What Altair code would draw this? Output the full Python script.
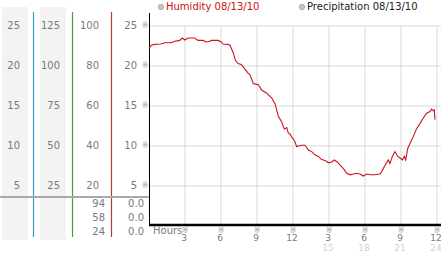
import altair as alt
import pandas as pd

# ---------------- data ----------------
hours = [0.0, 0.19, 0.48, 1.0, 1.31, 1.86, 2.14, 2.56, 2.78, 2.98, 3.25, 3.81, 4.08, 4.5,
         4.78, 5.06, 5.19, 5.75, 6.03, 6.17, 6.58, 6.75, 7.03, 7.19, 7.42, 7.69, 8.0, 8.25,
         8.42, 8.69, 8.98, 9.11, 9.39, 9.81, 10.23, 10.5, 10.78, 11.06, 11.28, 11.48, 11.61,
         11.75, 11.89, 12.03, 12.17, 12.31, 12.44, 12.73, 13.0, 13.28, 13.56, 13.83, 14.11,
         14.39, 14.67, 14.94, 15.23, 15.44, 15.69, 15.92, 16.19, 16.48, 16.75, 17.03, 17.31,
         17.58, 17.86, 18.14, 18.42, 18.83, 19.25, 19.39, 19.67, 19.94, 20.08, 20.28, 20.5,
         20.73, 20.92, 21.11, 21.28, 21.39, 21.56, 21.75, 22.03, 22.31, 22.58, 22.86, 23.14,
         23.42, 23.56, 23.69, 23.78, 23.83]
humidity = [22.2, 22.6, 22.7, 22.75, 22.9, 22.9, 23.1, 23.2, 23.5, 23.25, 23.5, 23.5, 23.2, 23.2,
            23.0, 23.1, 23.2, 23.2, 23.0, 22.75, 22.7, 22.6, 21.6, 20.75, 20.3, 20.2, 19.6, 19.1,
            18.9, 17.8, 17.7, 17.65, 17.0, 16.6, 16.0, 15.3, 13.7, 13.0, 12.1, 12.3, 11.6,
            11.5, 11.1, 10.9, 10.5, 9.9, 10.0, 10.1, 10.1, 9.5, 9.3, 8.9, 8.7,
            8.3, 8.2, 7.9, 8.0, 8.25, 8.0, 7.6, 7.2, 6.6, 6.4, 6.5, 6.6,
            6.5, 6.25, 6.5, 6.4, 6.4, 6.5, 6.8, 7.6, 8.25, 7.8, 8.7, 9.3,
            8.7, 8.5, 8.25, 8.7, 8.25, 9.7, 10.3, 11.2, 12.2, 12.8, 13.5, 14.1,
            14.3, 14.6, 14.4, 14.5, 13.3]

grid_vals = [25, 20, 15, 10, 5]
col1_labels = ["25", "20", "15", "10", "5"]
col2_labels = ["125", "100", "75", "50", "25"]
col3_labels = ["100", "80", "60", "40", "20"]
col4_labels = ["25", "20", "15", "10", "5"]
table_left = ["94", "58", "24"]
table_right = ["0.0", "0.0", "0.0"]
tick_hours = [3, 6, 9, 12, 15, 18, 21, 24]
tick_labels = ["3", "6", "9", "12", "3", "6", "9", "12"]
second_hours = [15, 18, 21, 24]
second_labels = ["15", "18", "21", "24"]
legend_texts = ["Humidity 08/13/10", "Precipitation 08/13/10"]

FONT = "DejaVu Sans"
W, H = 442, 253

xs = alt.Scale(domain=[-149 / 12, 293 / 12], nice=False, zero=False)
ys = alt.Scale(domain=[-27 / 8, 226 / 8], nice=False, zero=False)

one = pd.DataFrame({"d": [0]})
line_df = pd.DataFrame({"h": hours, "v": humidity})
grid_df = pd.DataFrame({"v": grid_vals, "c1": col1_labels, "c2": col2_labels,
                        "c3": col3_labels, "c4": col4_labels})
tick_df = pd.DataFrame({"h": tick_hours, "t": tick_labels})
sec_df = pd.DataFrame({"h": second_hours, "t": second_labels})


def Y(field="v"):
    return alt.Y(f"{field}:Q", scale=ys, axis=None)


def X(field="h"):
    return alt.X(f"{field}:Q", scale=xs, axis=None)


layers = []

# gray column backgrounds
for x1, x2 in [(2, 28), (40, 66)]:
    layers.append(alt.Chart(one).mark_rect(color="#f3f3f3").encode(
        x=alt.value(x1), x2=alt.value(x2), y=alt.value(7), y2=alt.value(240)))

# colored vertical lines
for xp, col in [(33.5, "#3a9ccc"), (72.5, "#3aa63a"), (111.5, "#b03a3a")]:
    layers.append(alt.Chart(one).mark_rule(color=col, strokeWidth=1.2).encode(
        x=alt.value(xp), y=alt.value(12), y2=alt.value(237)))

# gray separator
layers.append(alt.Chart(one).mark_rule(color="#a9a9a9", strokeWidth=2).encode(
    x=alt.value(0), x2=alt.value(149), y=alt.value(197)))

# horizontal grid
layers.append(alt.Chart(grid_df).mark_rule(color="#d9d9d9", strokeWidth=1).encode(
    y=Y(), x=alt.value(149), x2=alt.value(441)))

# vertical grid
layers.append(alt.Chart(tick_df).mark_rule(color="#d9d9d9", strokeWidth=1).encode(
    x=X(), y=alt.value(26), y2=alt.value(225)))

# black axes
layers.append(alt.Chart(one).mark_rule(color="#000000", strokeWidth=1).encode(
    x=alt.value(149.5), y=alt.value(13), y2=alt.value(226)))
layers.append(alt.Chart(one).mark_rule(color="#000000", strokeWidth=2.5).encode(
    x=alt.value(149), x2=alt.value(441), y=alt.value(225)))

# humidity line
layers.append(alt.Chart(line_df).mark_line(color="#cc1122", strokeWidth=1.1).encode(
    x=X(), y=Y()))

# left column labels
txt = dict(font=FONT, fontSize=10, baseline="middle", color="#7a7a7a")
for field, xp in [("c1", 20), ("c2", 60), ("c3", 99), ("c4", 137)]:
    layers.append(alt.Chart(grid_df).mark_text(align="right", **txt).encode(
        x=alt.value(xp), y=Y(), text=f"{field}:N"))

# tick glyphs on y
glyph = dict(align="center", font=FONT, fontSize=8, baseline="middle", color="#a0a0a0", text="※")
layers.append(alt.Chart(grid_df).mark_text(**glyph).encode(x=alt.value(145), y=Y()))

# table rows below separator
for i, yp in enumerate([204, 218, 232]):
    row = pd.DataFrame({"a": [table_left[i]], "b": [table_right[i]]})
    layers.append(alt.Chart(row).mark_text(align="right", **txt).encode(
        x=alt.value(105), y=alt.value(yp), text="a:N"))
    layers.append(alt.Chart(row).mark_text(align="right", **txt).encode(
        x=alt.value(144), y=alt.value(yp), text="b:N"))

# x axis labels
layers.append(alt.Chart(one).mark_text(align="left", text="Hours", **txt).encode(
    x=alt.value(153), y=alt.value(231)))
layers.append(alt.Chart(tick_df).mark_text(**glyph).encode(x=X(), y=alt.value(230.5)))
layers.append(alt.Chart(tick_df).mark_text(align="center", font=FONT, fontSize=9,
                                           baseline="middle", color="#7a7a7a", dx=-1).encode(
    x=X(), y=alt.value(238), text="t:N"))
layers.append(alt.Chart(sec_df).mark_text(align="center", font=FONT, fontSize=9,
                                          baseline="middle", color="#d2d2d2", dx=-1).encode(
    x=X(), y=alt.value(247.5), text="t:N"))

# legend
for xp, label, col in [(161, legend_texts[0], "#cc1111"), (302, legend_texts[1], "#222222")]:
    layers.append(alt.Chart(one).mark_point(filled=True, size=28, color="#b0b0b0",
                                            stroke="#8a8a8a", strokeWidth=1).encode(
        x=alt.value(xp), y=alt.value(7)))
    layers.append(alt.Chart(one).mark_text(align="left", font=FONT, fontSize=10,
                                           baseline="middle", color=col, text=label).encode(
        x=alt.value(xp + 5), y=alt.value(7)))

chart = alt.layer(*layers).properties(
    width=W, height=H, padding=0,
    autosize=alt.AutoSizeParams(type="none"),
    background="#ffffff",
).configure_view(strokeWidth=0)

chart.save("out.html", embed_options={"renderer": "svg", "actions": False})
